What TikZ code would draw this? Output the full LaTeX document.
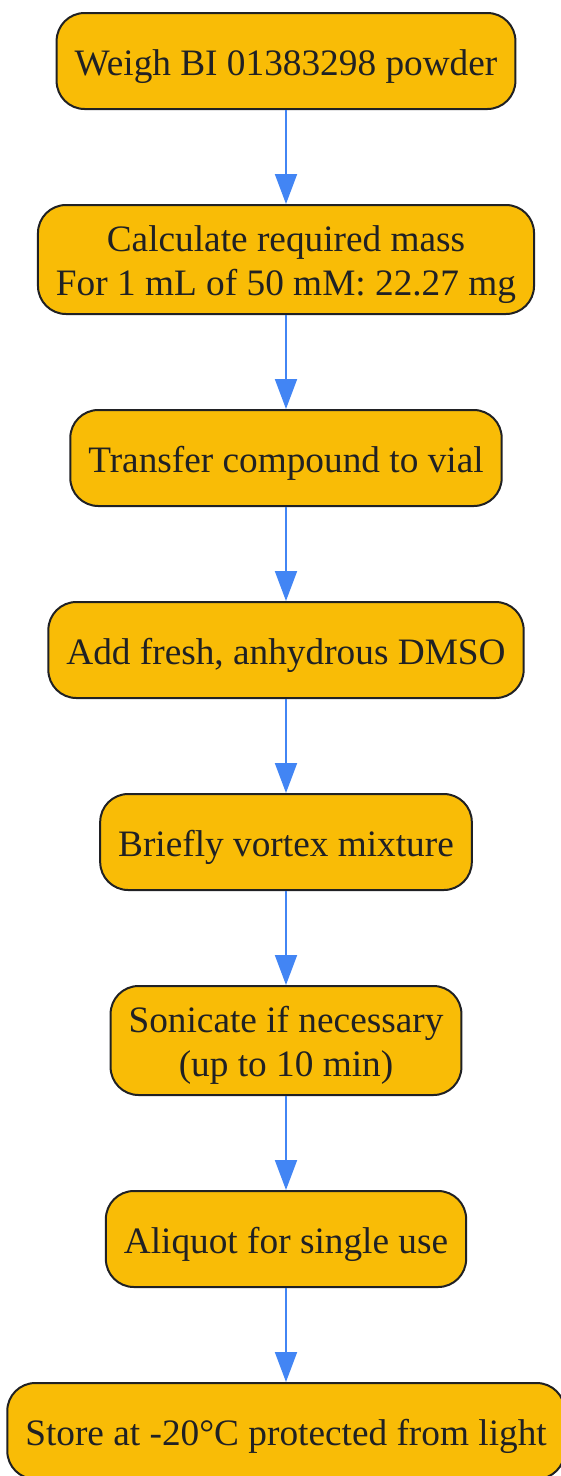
\documentclass[tikz,border=0pt]{standalone}
\usepackage{fontspec}
\setmainfont{Liberation Serif}
\usetikzlibrary{positioning,arrows.meta}
\definecolor{stepfill}{HTML}{F9BC06}
\definecolor{stepline}{HTML}{202124}
\definecolor{flowblue}{HTML}{4285F4}
\begin{document}
\begin{tikzpicture}[x=1pt,y=1pt,node distance=94pt,
    stepbox/.style={draw=stepline,line width=2pt,fill=stepfill,rounded corners=28pt,
      text=stepline,font=\fontsize{37.3}{44}\selectfont,align=center,
      inner xsep=18pt,inner ysep=10.5pt,minimum height=96pt,
      text height=36pt,text depth=8pt},
    tallbox/.style={stepbox,text height=80pt}]
  \useasboundingbox (0,0) rectangle (561,-1476);
  \node[stepbox] (weigh) at (286,-61) {Weigh BI 01383298 powder};
  \node[tallbox,below=of weigh] (calc) {Calculate required mass\\For 1 mL of 50 mM: 22.27 mg};
  \node[stepbox,below=of calc] (transfer) {Transfer compound to vial};
  \node[stepbox,below=of transfer] (dmso) {Add fresh, anhydrous DMSO};
  \node[stepbox,below=of dmso] (vortex) {Briefly vortex mixture};
  \node[tallbox,below=of vortex] (sonicate) {Sonicate if necessary\\(up to 10 min)};
  \node[stepbox,below=of sonicate] (aliquot) {Aliquot for single use};
  \node[stepbox,below=of aliquot] (store) {Store at -20°C protected from light};
  \begin{scope}[color=flowblue,line width=2pt,-{Triangle[length=30pt,width=22pt]}]
    \draw (weigh) to (calc);
    \draw (calc) to (transfer);
    \draw (transfer) to (dmso);
    \draw (dmso) to (vortex);
    \draw (vortex) to (sonicate);
    \draw (sonicate) to (aliquot);
    \draw (aliquot) to (store);
  \end{scope}
\end{tikzpicture}
\end{document}
